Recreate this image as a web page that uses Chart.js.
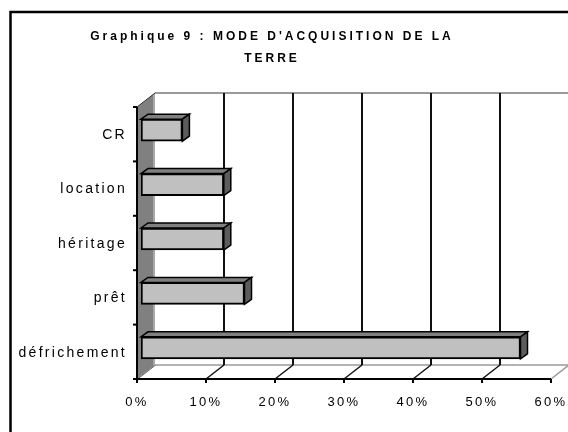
<!DOCTYPE html>
<html>
<head>
<meta charset="utf-8">
<script src="https://cdn.jsdelivr.net/npm/chart.js@4"></script>
<style>
  html, body { margin: 0; padding: 0; background: #fff; }
  #wrap { width: 568px; height: 432px; }
</style>
</head>
<body>
<div id="wrap"><canvas id="acqChart"></canvas></div>
<script>
// Data
const categories = ['CR', 'location', 'héritage', 'prêt', 'défrichement'];
const shares = [6, 12, 12, 15, 55];
const xTickLabels = ['0%', '10%', '20%', '30%', '40%', '50%', '60%'];
const titleLines = ["Graphique 9 : MODE D'ACQUISITION DE LA", 'TERRE'];

const FONT = "Arial, 'Liberation Sans', sans-serif";

// 3D offsets (bars plane -> front plane, front -> back wall, bar depth)
const BAR_DX = 4, BAR_DY = -4;
const BACK_DX = 18, BACK_DY = -14;
const DEPTH_DX = 7, DEPTH_DY = -5;

function line(ctx, x1, y1, x2, y2, color, w) {
  ctx.beginPath();
  ctx.moveTo(x1, y1);
  ctx.lineTo(x2, y2);
  ctx.strokeStyle = color;
  ctx.lineWidth = w;
  ctx.stroke();
}

function poly(ctx, pts, fill, stroke, w) {
  ctx.beginPath();
  ctx.moveTo(pts[0][0], pts[0][1]);
  for (let i = 1; i < pts.length; i++) ctx.lineTo(pts[i][0], pts[i][1]);
  ctx.closePath();
  if (fill) { ctx.fillStyle = fill; ctx.fill(); }
  if (stroke) { ctx.strokeStyle = stroke; ctx.lineWidth = w; ctx.stroke(); }
}

const decor = {
  id: 'decor',
  beforeDraw(chart) {
    const ctx = chart.ctx;
    ctx.save();
    // outer frame
    ctx.strokeStyle = '#000';
    ctx.lineWidth = 2.5;
    ctx.strokeRect(10.5, 12, 700, 700);
    // title
    ctx.fillStyle = '#000';
    ctx.font = 'bold 12px ' + FONT;
    ctx.letterSpacing = '3px';
    ctx.textAlign = 'center';
    ctx.textBaseline = 'alphabetic';
    ctx.fillText(titleLines[0], 272, 40);
    ctx.fillText(titleLines[1], 272, 62);
    ctx.restore();
    // spacing for the tick labels
    ctx.letterSpacing = '2.3px';
  },
  beforeDatasetsDraw(chart) {
    const ctx = chart.ctx;
    const xs = chart.scales.x;
    const area = chart.chartArea;
    const fx = v => xs.getPixelForValue(v) - BAR_DX;
    const fTop = area.top - BAR_DY, fBot = area.bottom - BAR_DY;
    const x0 = fx(0), xMax = fx(60);
    const bTop = fTop + BACK_DY, bBot = fBot + BACK_DY;
    ctx.save();
    ctx.letterSpacing = '0px';

    // back wall edges
    line(ctx, x0 + BACK_DX, bTop, xMax + BACK_DX, bTop, '#9a9a9a', 2);
    line(ctx, xMax + BACK_DX, bTop, xMax + BACK_DX, bBot, '#9a9a9a', 1.5);
    // floor back edge and right edge
    line(ctx, x0 + BACK_DX, bBot, xMax + BACK_DX, bBot, '#9a9a9a', 1.5);
    line(ctx, xMax, fBot, xMax + BACK_DX, bBot, '#9a9a9a', 1.5);

    // gridlines on back wall + diagonals on the floor
    xs.ticks.forEach(t => {
      const v = t.value;
      if (v === 0 || v === 60) return;
      line(ctx, fx(v) + BACK_DX, bTop, fx(v) + BACK_DX, bBot, '#111', 2);
    });
    xs.ticks.forEach(t => {
      const v = t.value;
      if (v === 60) return;
      line(ctx, fx(v), fBot, fx(v) + BACK_DX, bBot, '#111', 1.5);
    });

    // side wall
    poly(ctx, [[x0, fTop], [x0 + BACK_DX, bTop], [x0 + BACK_DX, bBot], [x0, fBot]], '#808080', null, 0);
    line(ctx, x0 + BACK_DX - 1, bTop + 1, x0 + BACK_DX - 1, bBot, '#a8a8a8', 2);
    line(ctx, x0, fTop, x0 + BACK_DX, bTop, '#333', 1);
    line(ctx, x0, fBot, x0 + BACK_DX, bBot, '#9a9a9a', 1);

    // value axis (front)
    line(ctx, x0, fBot, xMax, fBot, '#000', 2);
    xs.ticks.forEach(t => line(ctx, fx(t.value), fBot, fx(t.value), fBot + 4, '#000', 2));

    // category axis (front)
    line(ctx, x0, fTop, x0, fBot + 1, '#000', 2);
    const band = (fBot - fTop) / categories.length;
    for (let k = 0; k <= categories.length; k++) {
      line(ctx, x0 - 4, fTop + k * band, x0, fTop + k * band, '#000', 2);
    }
    ctx.restore();
  },
  afterDatasetsDraw(chart) {
    const ctx = chart.ctx;
    ctx.save();
    chart.getDatasetMeta(0).data.forEach(bar => {
      const p = bar.getProps(['x', 'y', 'base', 'height'], true);
      const left = p.base, right = p.x;
      const top = p.y - p.height / 2, bottom = p.y + p.height / 2;
      poly(ctx, [[left, top], [left + DEPTH_DX, top + DEPTH_DY], [right + DEPTH_DX, top + DEPTH_DY], [right, top]],
        '#808080', '#000', 1.5);
      poly(ctx, [[right, top], [right + DEPTH_DX, top + DEPTH_DY], [right + DEPTH_DX, bottom + DEPTH_DY], [right, bottom]],
        '#5c5c5c', '#000', 1.5);
    });
    ctx.restore();
  }
};

const acqCtx = document.getElementById('acqChart').getContext('2d');

new Chart(acqCtx, {
  type: 'bar',
  data: {
    labels: categories,
    datasets: [{
      data: shares,
      backgroundColor: '#c0c0c0',
      borderColor: '#000',
      borderWidth: 2,
      borderSkipped: false,
      barThickness: 22
    }]
  },
  options: {
    indexAxis: 'y',
    responsive: true,
    maintainAspectRatio: false,
    animation: false,
    layout: { padding: { top: 103, right: 13, bottom: 0, left: 0 } },
    plugins: {
      legend: { display: false },
      tooltip: { enabled: false }
    },
    scales: {
      x: {
        min: 0,
        max: 60,
        grid: { display: false },
        border: { display: false },
        ticks: {
          stepSize: 10,
          callback: (v, i) => xTickLabels[i],
          color: '#000',
          font: { family: FONT, size: 13 },
          padding: 12,
          labelOffset: -4,
          maxRotation: 0,
          autoSkip: false
        },
        afterFit: s => { s.height = 57; s.paddingLeft = 0; s.paddingRight = 0; }
      },
      y: {
        grid: { display: false },
        border: { display: false },
        ticks: {
          color: '#000',
          font: { family: FONT, size: 14 },
          padding: 6,
          labelOffset: 5
        },
        afterFit: s => { s.width = 141; s.paddingTop = 0; s.paddingBottom = 0; }
      }
    }
  },
  plugins: [decor]
});
</script>
</body>
</html>
